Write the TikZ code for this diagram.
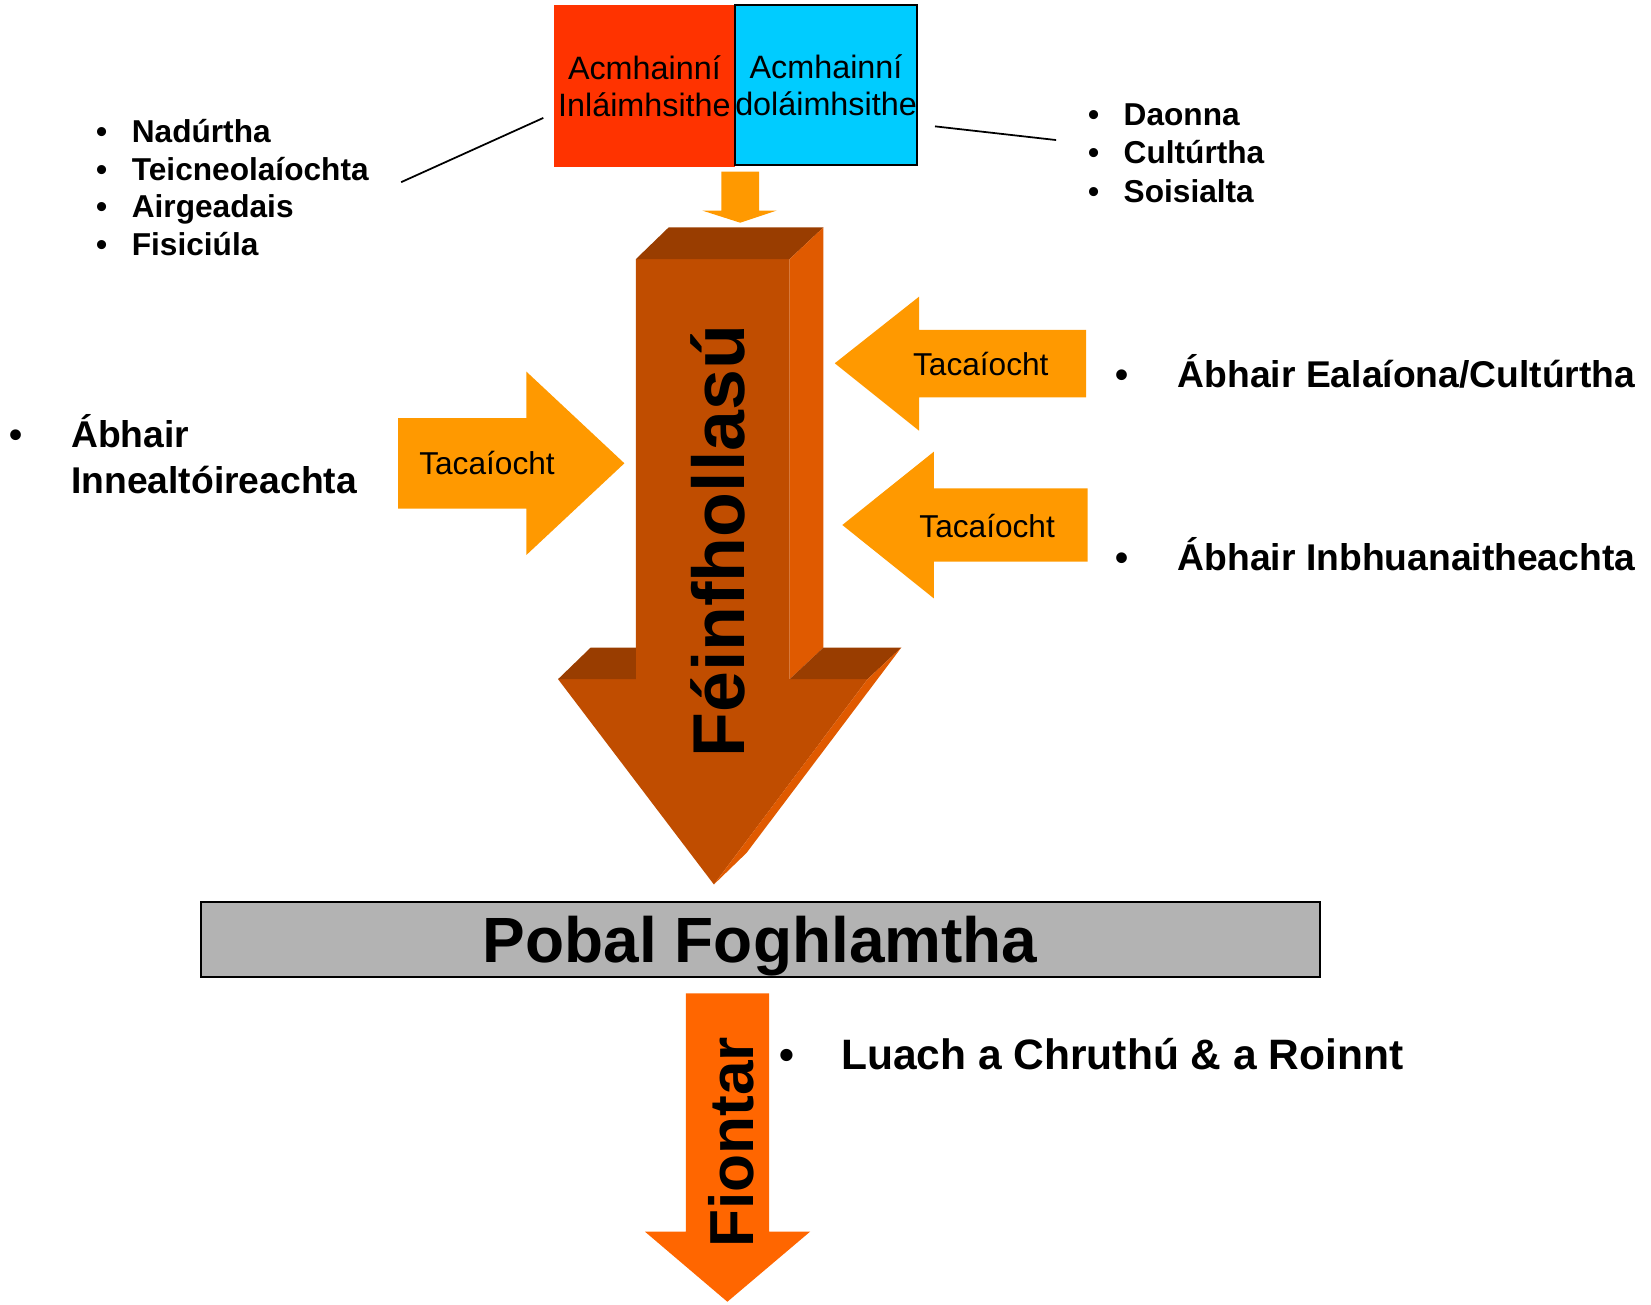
\documentclass[tikz,border=0pt]{standalone}
\usepackage{fontspec}
\setmainfont{Liberation Sans}
\definecolor{inlred}{HTML}{FF3300}
\definecolor{dolcyan}{HTML}{00CCFF}
\definecolor{suppor}{HTML}{FF9900}
\definecolor{arrfront}{HTML}{C04D00}
\definecolor{arrtop}{HTML}{993D00}
\definecolor{arrside}{HTML}{E05A00}
\definecolor{fiontor}{HTML}{FF6600}
\definecolor{pobalgray}{HTML}{B3B3B3}
\tikzset{
  every node/.style={inner sep=0pt},
  resbox/.style={minimum width=51.6pt, minimum height=46pt, align=center,
    font=\fontsize{9.2}{10.5}\selectfont},
  supp/.style={fill=suppor},
  tactext/.style={anchor=base, font=\fontsize{9}{10.8}\selectfont},
  listtext/.style={anchor=base west, font=\fontsize{9}{10.8}\selectfont\bfseries},
  abhtext/.style={anchor=base west, font=\fontsize{10.6}{13.2}\selectfont\bfseries},
  bigtext/.style={rotate=90, anchor=base, font=\fontsize{#1}{#1}\selectfont\bfseries}
}
\begin{document}
\begin{tikzpicture}[x=0.010529cm, y=-0.010529cm]
        \useasboundingbox (0,0) rectangle (1568,1239);

        % resource boxes
        \node[resbox, fill=inlred] (inl) at (612,81.7) {Acmhainní\\Inláimhsithe};
        \node[resbox, fill=dolcyan, draw=black, line width=0.6pt, minimum width=51.85pt, minimum height=45.5pt]
          (dol) at (784.5,80.7) {Acmhainní\\doláimhsithe};

        % small arrow into the big one
        \fill[supp] (685,163) -- (721,163) -- (721,200) -- (737.6,200) -- (703,211.5)
          -- (667,200) -- (685,200) -- cycle;

        % big 3d arrow
        \fill[arrfront] (604,246) -- (750,246) -- (750,645) -- (824,645) -- (678,840)
          -- (530,645) -- (604,645) -- cycle;
        \fill[arrtop] (604,246) -- (635,216) -- (782,216) -- (750,246) -- cycle;
        \fill[arrside] (750,246) -- (782,216) -- (782,615) -- (750,645) -- cycle;
        \fill[arrtop] (530,645) -- (561,615) -- (604,615) -- (604,645) -- cycle;
        \fill[arrtop] (750,645) -- (782,615) -- (856,615) -- (824,645) -- cycle;
        \fill[arrside] (824,645) -- (856,615) -- (709,810) -- (678,840) -- cycle;
        \node[bigtext=20.9] (feinf) at (706.6,514) {Féinfhollasú};

        % support arrows
        \fill[supp] (378,397) -- (500,397) -- (500,353) -- (593,440) -- (500,527)
          -- (500,483) -- (378,483) -- cycle;
        \fill[supp] (1031.5,313.4) -- (872.8,313.4) -- (872.8,281.8) -- (792.8,345)
          -- (872.8,409) -- (872.8,377.4) -- (1031.5,377.4) -- cycle;
        \fill[supp] (1033,463.8) -- (886.9,463.8) -- (886.9,429) -- (800,498.6)
          -- (886.9,568.3) -- (886.9,533.5) -- (1033,533.5) -- cycle;
        \node[tactext] (tacl) at (462.5,451) {Tacaíocht};
        \node[tactext] (tacra) at (931.5,357) {Tacaíocht};
        \node[tactext] (tacrb) at (937.5,510) {Tacaíocht};

        % resource lists
        \foreach \lbl [count=\i from 0] in {Nadúrtha, Teicneolaíochta, Airgeadais, Fisiciúla}
          \node[listtext] (lres\i) at (90.7,135+36*\i) {\textbullet\hspace{7pt}\lbl};
        \foreach \lbl [count=\i from 0] in {Daonna, Cultúrtha, Soisialta}
          \node[listtext] (rres\i) at (1032.7,119+36.5*\i) {\textbullet\hspace{7pt}\lbl};

        % pointer lines
        \coordinate (lfoot) at (381,173);
        \coordinate (lhead) at (516,112);
        \coordinate (rfoot) at (1003,133);
        \coordinate (rhead) at (888,120);
        \draw[line width=0.5pt] (lfoot) -- (lhead);
        \draw[line width=0.5pt] (rhead) -- (rfoot);

        % subject areas
        \node[abhtext] (innl) at (8.8,425)
          {\begin{tabular}[t]{@{}l@{\hspace{13.7pt}}l@{}}\textbullet & Ábhair\\ & Innealtóireachta\end{tabular}};
        \node[abhtext] (ealc) at (1058.8,368) {\textbullet\hspace{14pt}Ábhair Ealaíona/Cultúrtha};
        \node[abhtext] (inbh) at (1058.8,542) {\textbullet\hspace{14pt}Ábhair Inbhuanaitheachta};

        % learning community
        \node[draw=black, line width=0.6pt, fill=pobalgray, minimum width=318.3pt, minimum height=21.3pt,
          text height=13pt, text depth=0.2pt, font=\fontsize{18.2}{20}\selectfont\bfseries]
          (pobal) at (722,892.5) {Pobal Foghlamtha};

        % enterprise arrow
        \fill[fiontor] (651.5,943.4) -- (730.4,943.4) -- (730.4,1169.8) -- (769.3,1169.8)
          -- (690.8,1236.3) -- (612.6,1169.8) -- (651.5,1169.8) -- cycle;
        \node[bigtext=17.7] (fiontar) at (715.5,1085) {Fiontar};
        \node[anchor=base west, font=\fontsize{12.1}{14.5}\selectfont\bfseries] (luach) at (740,1016)
          {\textbullet\hspace{13.2pt}Luach a Chruthú \& a Roinnt};
\end{tikzpicture}
\end{document}
